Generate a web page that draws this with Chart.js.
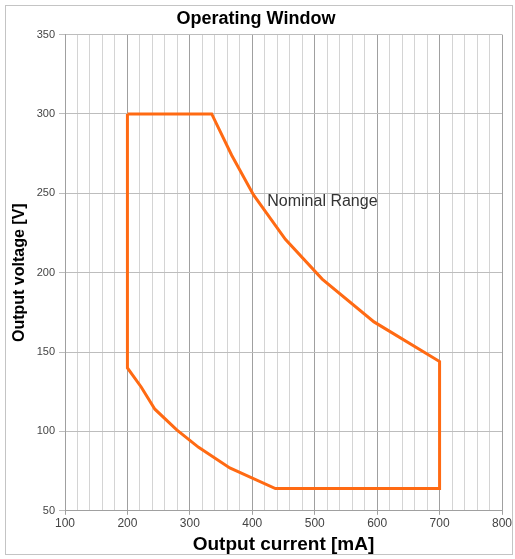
<!DOCTYPE html>
<html>
<head>
<meta charset="utf-8">
<script src="https://cdn.jsdelivr.net/npm/chart.js@4/dist/chart.umd.min.js"></script>
<style>
    html, body { margin: 0; padding: 0; background: #fff; }
    #wrap { position: relative; width: 515px; height: 559px; }
</style>
</head>
<body>
<div id="wrap"><canvas id="operating-window"></canvas></div>
<script>
// outline of the operating window, clockwise from the top-left corner
const currentMa = [200, 335, 367, 402, 453, 512, 595, 700, 700, 437, 364, 314, 279, 244, 222, 200, 200];
const voltageV  = [300, 300, 274, 249, 221, 196, 169, 144, 64, 64, 77, 90, 101, 114, 128, 140, 300];

const xTicks = [100, 200, 300, 400, 500, 600, 700, 800];
const yTicks = [50, 100, 150, 200, 250, 300, 350];

const areaLabel = 'Nominal Range';
const areaLabelAt = [424, 245];

const points = currentMa.map((x, i) => ({ x: x, y: voltageV[i] }));

const FONT = '"Liberation Sans", Arial, sans-serif';

// frame round the whole picture + text inside the window
const framePlugin = {
    id: 'frame',
    beforeDraw(chart) {
        const ctx = chart.ctx;
        ctx.save();
        ctx.fillStyle = '#fff';
        ctx.fillRect(0, 0, chart.width, chart.height);
        ctx.strokeStyle = '#c4c4c4';
        ctx.lineWidth = 1;
        ctx.strokeRect(5.5, 5.5, 507, 549);
        ctx.restore();
    },
    afterDatasetsDraw(chart) {
        const ctx = chart.ctx;
        const px = chart.scales.x.getPixelForValue(areaLabelAt[0]);
        const py = chart.scales.y.getPixelForValue(areaLabelAt[1]);
        ctx.save();
        ctx.font = '16px ' + FONT;
        ctx.fillStyle = '#333';
        ctx.textBaseline = 'middle';
        ctx.fillText(areaLabel, px, py);
        ctx.restore();
    }
};

new Chart(document.getElementById('operating-window'), {
    type: 'scatter',
    data: {
        datasets: [{
            data: points,
            showLine: true,
            borderColor: '#ff6a13',
            borderWidth: 3,
            pointRadius: 0,
            tension: 0,
            fill: false
        }]
    },
    options: {
        responsive: true,
        maintainAspectRatio: false,
        animation: false,
        layout: { padding: { top: 8, right: 13, bottom: 3, left: 10 } },
        plugins: {
            legend: { display: false },
            tooltip: { enabled: false },
            title: {
                display: true,
                text: 'Operating Window',
                color: '#000',
                font: { family: FONT, size: 18, weight: 'bold' },
                padding: { top: 0, bottom: 5 }
            }
        },
        scales: {
            x: {
                type: 'linear',
                min: 100,
                max: 800,
                afterBuildTicks(scale) {
                    const ticks = [];
                    for (let v = 100; v <= 800; v += 20) ticks.push({ value: v });
                    scale.ticks = ticks;
                },
                ticks: {
                    autoSkip: false,
                    maxRotation: 0,
                    color: '#444',
                    padding: 2,
                    font: { family: FONT, size: 12 },
                    callback: v => xTicks.includes(v) ? String(v) : ''
                },
                grid: {
                    color: c => (c.tick && c.tick.value % 100 === 0) ? '#a0a0a0' : '#d4d4d4',
                    tickColor: c => (c.tick && c.tick.value % 100 === 0) ? '#a0a0a0' : 'rgba(0,0,0,0)',
                    tickLength: 4
                },
                border: { color: '#a0a0a0' },
                title: {
                    display: true,
                    text: 'Output current [mA]',
                    color: '#000',
                    font: { family: FONT, size: 19, weight: 'bold' },
                    padding: { top: 0, bottom: 0 }
                }
            },
            y: {
                type: 'linear',
                min: 50,
                max: 350,
                afterBuildTicks(scale) {
                    scale.ticks = yTicks.map(v => ({ value: v }));
                },
                afterFit(scale) {
                    scale.width = 55;
                },
                ticks: {
                    color: '#444',
                    padding: 4,
                    font: { family: FONT, size: 11 }
                },
                grid: {
                    color: '#bdbdbd',
                    tickColor: '#bdbdbd',
                    tickLength: 6
                },
                border: { color: '#a0a0a0' },
                title: {
                    display: true,
                    text: 'Output voltage [V]',
                    color: '#000',
                    font: { family: FONT, size: 16, weight: 'bold' },
                    padding: { top: 0, bottom: 0 }
                }
            }
        }
    },
    plugins: [framePlugin]
});
</script>
</body>
</html>
